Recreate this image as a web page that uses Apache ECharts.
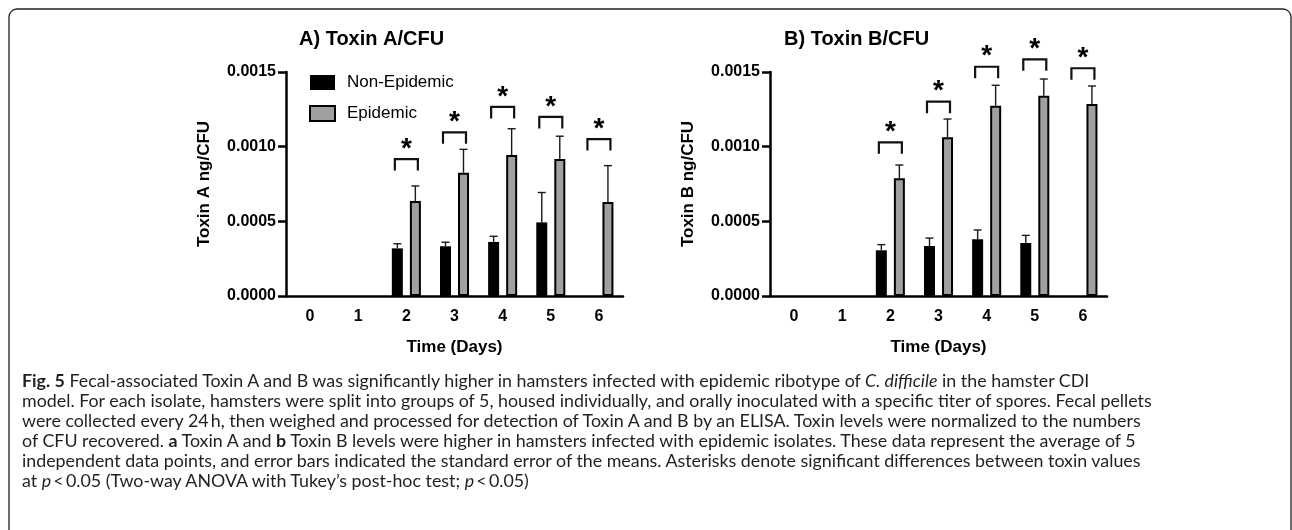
<!DOCTYPE html>
<html>
<head>
<meta charset="utf-8">
<script src="https://cdn.jsdelivr.net/npm/echarts@6.0.0/dist/echarts.min.js"></script>
<style>
  html, body { margin: 0; padding: 0; background: #fff; }
  #wrap { position: relative; width: 1292px; height: 530px; overflow: hidden; }
  #chart { position: absolute; left: 0; top: 0; width: 1292px; height: 530px; }
  #caption { position: absolute; left: 22px; top: 0; font-family: 'Lato', 'Open Sans', sans-serif; color: #231f20; }
  .ln { position: absolute; left: 0; white-space: nowrap; line-height: 20px; font-size: 16.5px; }
</style>
</head>
<body>
<div id="wrap">
  <div id="chart"></div>
  <div id="caption">
    <div class="ln" style="top:370px"><b>Fig. 5</b> Fecal-associated Toxin A and B was significantly higher in hamsters infected with epidemic ribotype of <i>C. difficile</i> in the hamster CDI</div>
    <div class="ln" id="ref" style="top:390px">model. For each isolate, hamsters were split into groups of 5, housed individually, and orally inoculated with a specific titer of spores. Fecal pellets</div>
    <div class="ln" style="top:410px">were collected every 24&#8201;h, then weighed and processed for detection of Toxin A and B by an ELISA. Toxin levels were normalized to the numbers</div>
    <div class="ln" style="top:430px">of CFU recovered. <b>a</b> Toxin A and <b>b</b> Toxin B levels were higher in hamsters infected with epidemic isolates. These data represent the average of 5</div>
    <div class="ln" style="top:450px">independent data points, and error bars indicated the standard error of the means. Asterisks denote significant differences between toxin values</div>
    <div class="ln" style="top:470px">at <i>p</i>&#8201;&lt;&#8201;0.05 (Two-way ANOVA with Tukey’s post-hoc test; <i>p</i>&#8201;&lt;&#8201;0.05)</div>
  </div>
</div>
<script>
// ---- data ----
const days = ['0', '1', '2', '3', '4', '5', '6'];
const yTicks = [0, 0.0005, 0.0010, 0.0015];

const toxinA_non = [0, 0, 0.000319, 0.000333, 0.000362, 0.000493, 0];
const toxinA_nonSem = [0, 0, 0.000031, 0.000027, 0.000038, 0.000200, 0];
const toxinA_epi = [0, 0, 0.000636, 0.000826, 0.000944, 0.000917, 0.000629];
const toxinA_epiSem = [0, 0, 0.000101, 0.000156, 0.000176, 0.000153, 0.000244];
const toxinA_bracket = [null, null, 0.000917, 0.001096, 0.001266, 0.001199, 0.001051];

const toxinB_non = [0, 0, 0.000306, 0.000335, 0.000380, 0.000355, 0];
const toxinB_nonSem = [0, 0, 0.000038, 0.000053, 0.000062, 0.000051, 0];
const toxinB_epi = [0, 0, 0.000788, 0.001063, 0.001274, 0.001341, 0.001286];
const toxinB_epiSem = [0, 0, 0.000089, 0.000122, 0.000137, 0.000112, 0.000120];
const toxinB_bracket = [null, null, 0.001029, 0.001301, 0.001535, 0.001585, 0.001525];

const seriesNames = ['Non-Epidemic', 'Epidemic'];
const titles = ['A) Toxin A/CFU', 'B) Toxin B/CFU'];
const yNames = ['Toxin A ng/CFU', 'Toxin B ng/CFU'];
const xName = 'Time (Days)';

// ---- caption font fit ----
(function () {
  const ref = document.getElementById('ref');
  const w = ref.getBoundingClientRect().width;
  const target = 1130;
  const fs = 16.5 * target / w;
  document.querySelectorAll('.ln').forEach(el => el.style.fontSize = fs.toFixed(2) + 'px');
})();

// ---- chart ----
const FONT = 'Liberation Sans, Arial, sans-serif';
const GREY = '#a0a0a0';
const BAR_W = 11;
const OFF = 9;

const chart = echarts.init(document.getElementById('chart'), null, { renderer: 'canvas' });

function axisX(gi) {
  return {
    type: 'category', gridIndex: gi, data: days,
    name: xName, nameLocation: 'middle', nameGap: 43,
    nameTextStyle: { fontFamily: FONT, fontWeight: 'bold', fontSize: 17, color: '#000' },
    axisLine: { lineStyle: { color: '#000', width: 2.5 } },
    axisTick: { alignWithLabel: true, length: 7, lineStyle: { color: '#000', width: 2.5 } },
    axisLabel: { fontFamily: FONT, fontWeight: 'bold', fontSize: 16, color: '#000', margin: 13 },
    splitLine: { show: false }
  };
}
function axisY(gi) {
  return {
    type: 'value', gridIndex: gi, min: 0, max: yTicks[yTicks.length - 1], interval: yTicks[1] - yTicks[0],
    name: yNames[gi], nameLocation: 'middle', nameGap: 73, nameRotate: 90,
    nameTextStyle: { fontFamily: FONT, fontWeight: 'bold', fontSize: 17, color: '#000' },
    axisLine: { show: true, lineStyle: { color: '#000', width: 2.5 } },
    axisTick: { show: true, length: 8, lineStyle: { color: '#000', width: 2.5 } },
    axisLabel: { fontFamily: FONT, fontWeight: 'bold', fontSize: 16, color: '#000', margin: 10,
      formatter: v => v.toFixed(4) },
    splitLine: { show: false }
  };
}

function overlay(gi, non, nonSem, epi, epiSem, bracket) {
  const data = days.map((d, i) => [i, non[i], nonSem[i], epi[i], epiSem[i], bracket[i] == null ? NaN : bracket[i]]);
  return {
    type: 'custom', xAxisIndex: gi, yAxisIndex: gi, clip: false, z: 5, silent: true,
    data: data,
    renderItem: function (params, api) {
      const i = api.value(0);
      const children = [];
      const errStyle = { stroke: '#1a1a1a', lineWidth: 1.4 };
      [[api.value(1), api.value(2), -OFF], [api.value(3), api.value(4), OFF]].forEach(([m, s, off]) => {
        if (!(s > 0)) return;
        const p0 = api.coord([i, m]);
        const p1 = api.coord([i, m + s]);
        const x = p0[0] + off;
        children.push({ type: 'line', shape: { x1: x, y1: p0[1], x2: x, y2: p1[1] }, style: errStyle });
        children.push({ type: 'line', shape: { x1: x - 4, y1: p1[1], x2: x + 4, y2: p1[1] }, style: errStyle });
      });
      const b = api.value(5);
      if (!isNaN(b)) {
        const pb = api.coord([i, b]);
        const xc = pb[0], y = pb[1];
        children.push({ type: 'polyline', shape: { points: [[xc - 11.5, y + 11.5], [xc - 11.5, y], [xc + 11.5, y], [xc + 11.5, y + 11.5]] },
          style: { stroke: '#111', lineWidth: 2.2, fill: null } });
        children.push({ type: 'text', style: { text: '*', x: xc, y: y - 10, align: 'center', verticalAlign: 'middle',
          font: 'bold 28px ' + FONT, fill: '#000' } });
      }
      return { type: 'group', children: children };
    }
  };
}

function bars(gi, name, values, isEpi) {
  return {
    type: 'bar', name: name, xAxisIndex: gi, yAxisIndex: gi,
    data: values.map(v => (v > 0 ? v : '-')),
    barWidth: BAR_W, barGap: '64%',
    itemStyle: isEpi ? { color: GREY, borderColor: '#000', borderWidth: 2 } : { color: '#000' },
    emphasis: { disabled: true }, z: 2
  };
}

chart.setOption({
  animation: false,
  backgroundColor: '#fff',
  title: [
    { text: titles[0], left: 294, top: 24, textStyle: { fontFamily: FONT, fontWeight: 'bold', fontSize: 20, color: '#000' } },
    { text: titles[1], left: 779, top: 24, textStyle: { fontFamily: FONT, fontWeight: 'bold', fontSize: 20, color: '#000' } }
  ],
  legend: {
    data: seriesNames.map(n => ({ name: n, icon: 'rect' })), orient: 'vertical', left: 309, top: 74, padding: 0,
    itemWidth: 25, itemHeight: 15, itemGap: 14,
    selectedMode: false,
    itemStyle: { borderColor: '#000' },
    textStyle: { fontFamily: FONT, fontSize: 17, color: '#000', padding: [0, 0, 0, 7] }
  },
  grid: [
    { left: 286, top: 72, width: 337, height: 224 },
    { left: 770, top: 72, width: 337, height: 224 }
  ],
  xAxis: [axisX(0), axisX(1)],
  yAxis: [axisY(0), axisY(1)],
  series: [
    bars(0, seriesNames[0], toxinA_non, false),
    bars(0, seriesNames[1], toxinA_epi, true),
    bars(1, 'B ' + seriesNames[0], toxinB_non, false),
    bars(1, 'B ' + seriesNames[1], toxinB_epi, true),
    overlay(0, toxinA_non, toxinA_nonSem, toxinA_epi, toxinA_epiSem, toxinA_bracket),
    overlay(1, toxinB_non, toxinB_nonSem, toxinB_epi, toxinB_epiSem, toxinB_bracket)
  ],
  graphic: [
    { type: 'rect', shape: { x: 9, y: 9, width: 1282, height: 700, r: 8 }, style: { fill: null, stroke: '#222', lineWidth: 1.3 }, silent: true }
  ]
});
</script>
</body>
</html>
